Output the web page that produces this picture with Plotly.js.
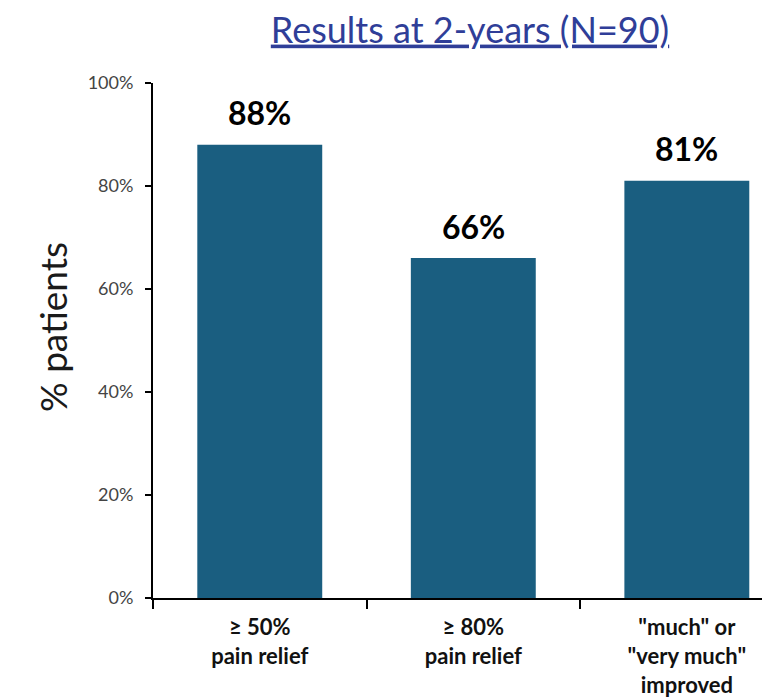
<!DOCTYPE html>
<html>
<head>
<meta charset="utf-8">
<script src="https://cdn.plot.ly/plotly-3.0.1.min.js"></script>
<style>html,body{margin:0;padding:0;background:#fff;overflow:hidden}#chart{width:762px;height:698px}</style>
</head>
<body>
<div id="chart"></div>
<script>
const categories = ['≥ 50%<br>pain relief', '≥ 80%<br>pain relief', '"much" or<br>"very much"<br>improved'];
const values = [88, 66, 81];
const valueLabels = ['88%', '66%', '81%'];
const yTickVals = [0, 20, 40, 60, 80, 100];
const yTickText = ['0%', '20%', '40%', '60%', '80%', '100%'];
const titleText = 'Results at 2-years (N=90)';
const yTitle = '% patients';

const font = 'Lato, "Open Sans", sans-serif';
const barColor = '#1A5E80';

const trace = {
  type: 'bar',
  x: categories,
  y: values,
  marker: {color: barColor},
  width: 0.585,
  hoverinfo: 'none'
};

const annotations = categories.map((c, i) => ({
  x: c, y: values[i], xref: 'x', yref: 'y',
  text: '<b>' + valueLabels[i] + '</b>',
  showarrow: false, yanchor: 'middle', yshift: 32,
  font: {family: font, size: 32, color: '#000'}
}));

annotations.push({
  text: yTitle, xref: 'paper', yref: 'paper',
  x: (52 - 153) / 609, y: (598 - 327) / 515,
  xanchor: 'center', yanchor: 'middle', textangle: -90,
  showarrow: false,
  font: {family: font, size: 37, color: '#1a1a1a'}
});

const layout = {
  width: 762, height: 698,
  margin: {l: 153, r: 0, t: 83, b: 100, pad: 0},
  paper_bgcolor: '#fff', plot_bgcolor: '#fff',
  showlegend: false,
  title: {
    text: '<span style="text-decoration:underline">' + titleText + '</span>',
    x: 470 / 762, xref: 'container', xanchor: 'center',
    y: 1 - 30 / 698, yref: 'container', yanchor: 'middle',
    font: {family: font, size: 36, color: '#2F3E98'}
  },
  xaxis: {
    type: 'category',
    range: [-0.5, 2.352],
    showline: true, linecolor: '#000', linewidth: 2,
    ticks: 'outside', tickson: 'boundaries', ticklen: 9, tickwidth: 2, tickcolor: '#000',
    tickfont: {family: font, size: 22, color: '#111'},
    tickprefix: '<b>', ticksuffix: '</b>',
    showgrid: false, zeroline: false, fixedrange: true,
    ticklabelstandoff: 9
  },
  yaxis: {
    range: [0, 100],
    tickvals: yTickVals, ticktext: yTickText,
    showline: true, linecolor: '#000', linewidth: 2,
    ticks: 'outside', ticklen: 6, tickwidth: 2, tickcolor: '#000',
    tickfont: {family: font, size: 18, color: '#444'},
    showgrid: false, zeroline: false, fixedrange: true,
    ticklabelstandoff: 8
  },
  annotations: annotations,
  bargap: 0.4
};

Plotly.newPlot('chart', [trace], layout, {displayModeBar: false, staticPlot: true});
</script>
</body>
</html>
